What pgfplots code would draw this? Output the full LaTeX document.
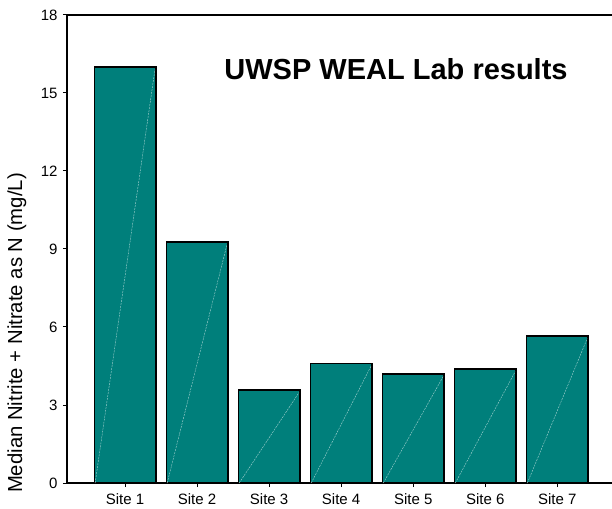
\documentclass[border=0pt]{standalone}
\usepackage{pgfplots}
\pgfplotsset{compat=1.18}
\usepackage{fontspec}
\setmainfont{Liberation Sans}
\definecolor{barteal}{HTML}{007F7B}
\begin{document}
\begin{tikzpicture}
\begin{axis}[
  scale only axis, width=545pt, height=468pt,
  at={(0,0)}, anchor=south west,
  xmin=-0.806, xmax=6.76, ymin=0, ymax=18,
  axis x line*=bottom, axis y line*=left,
  axis line style={-, line width=1.4pt},
  unbounded coords=jump,
  xtick={0,...,6},
  xticklabels={Site 1,Site 2,Site 3,Site 4,Site 5,Site 6,Site 7},
  ytick={0,3,...,18},
  tick align=outside, major tick length=4pt,
  tick style={line width=1pt, black},
  tick label style={font=\fontsize{15}{18}\selectfont},
  xticklabel style={yshift=-3pt},
  yticklabel style={xshift=-2pt},
  /pgf/number format/assume math mode=true,
]
\addplot[ybar, bar width=0.85, fill=barteal, draw=black, line width=1.7pt]
  coordinates {(0,16.0) (1,9.27) (2,3.58) (3,4.6) (4,4.19) (5,4.38) (6,5.65)};
\addplot[white!65!barteal, line width=0.4pt, dash pattern=on 2pt off 1pt]
  coordinates {(-0.415,0) (0.415,15.9) (0.5,nan)
               (0.585,0) (1.415,9.17) (1.5,nan)
               (1.585,0) (2.415,3.48) (2.5,nan)
               (2.585,0) (3.415,4.5) (3.5,nan)
               (3.585,0) (4.415,4.09) (4.5,nan)
               (4.585,0) (5.415,4.28) (5.5,nan)
               (5.585,0) (6.415,5.55)};
\end{axis}
\draw[line width=1.4pt] (0,468pt) -- (545pt,468pt);
\node[rotate=90, font=\fontsize{20.3}{23}\selectfont] at (-50pt,150pt) {Median Nitrite + Nitrate as N (mg/L)};
\node[font=\bfseries\fontsize{29}{32}\selectfont, anchor=base] at (396pt-67pt,403pt) {UWSP WEAL Lab results};
\pgfresetboundingbox
\path (-67pt,-25pt) rectangle (545pt,483pt);
\end{tikzpicture}
\end{document}
